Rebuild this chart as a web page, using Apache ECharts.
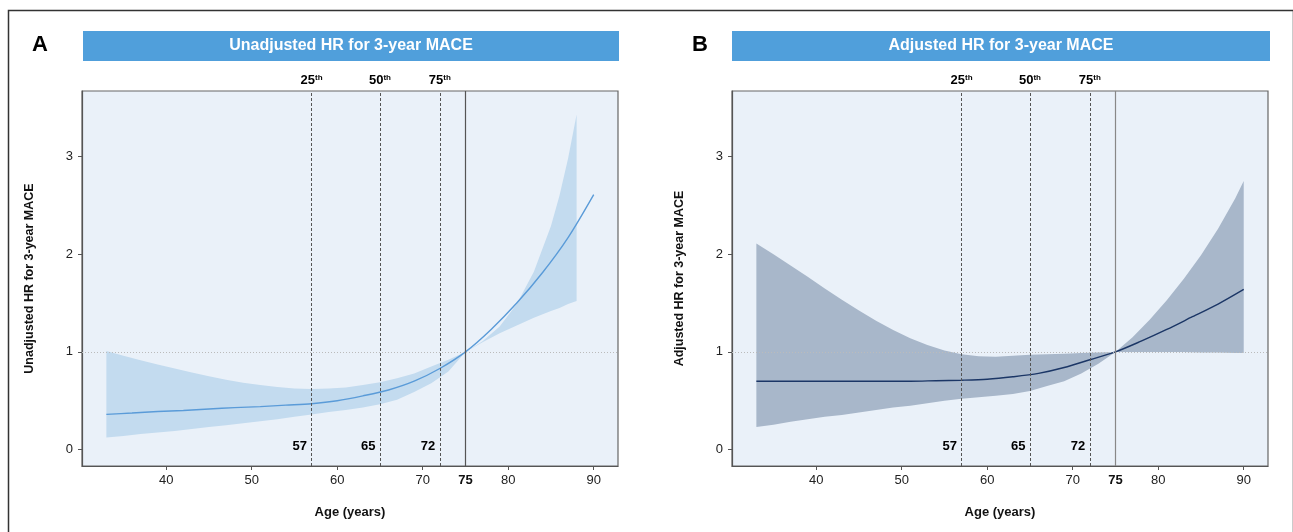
<!DOCTYPE html>
<html>
<head>
<meta charset="utf-8">
<title>HR for 3-year MACE by age</title>
<script src="https://cdn.jsdelivr.net/npm/echarts@6/dist/echarts.min.js"></script>
<style>
  html, body { margin: 0; padding: 0; background: #fff; }
  #main { width: 1293px; height: 532px; }
</style>
</head>
<body>
<div id="main"></div>
<script>
// panel A - unadjusted
var ageA = [33, 36, 39, 42, 45, 48, 51, 54, 57, 60, 63, 66, 69, 72, 75, 78, 81, 84, 87, 90];
var hrA = [0.36, 0.375, 0.39, 0.40, 0.415, 0.43, 0.44, 0.455, 0.47, 0.50, 0.55, 0.61, 0.70, 0.83, 1.0, 1.23, 1.50, 1.81, 2.17, 2.61];
var bandAgeA = [33, 35, 37, 39, 41, 43, 45, 47, 49, 51, 53, 55, 57, 59, 61, 63, 65, 67, 69, 71, 73, 75, 77, 79, 81, 83, 85, 86, 87, 88];
var upperA = [1.01, 0.96, 0.915, 0.87, 0.83, 0.79, 0.75, 0.715, 0.685, 0.66, 0.64, 0.625, 0.62, 0.625, 0.635, 0.66, 0.69, 0.73, 0.78, 0.85, 0.92, 1.0, 1.11, 1.26, 1.49, 1.82, 2.29, 2.60, 2.98, 3.43];
var lowerA = [0.125, 0.14, 0.16, 0.175, 0.19, 0.21, 0.23, 0.25, 0.27, 0.29, 0.31, 0.335, 0.36, 0.385, 0.405, 0.43, 0.465, 0.51, 0.59, 0.68, 0.80, 1.0, 1.10, 1.19, 1.27, 1.35, 1.42, 1.45, 1.49, 1.52];

// panel B - adjusted
var ageB = [33, 36, 39, 42, 45, 48, 51, 54, 57, 60, 63, 66, 69, 72, 75, 78, 81, 84, 87, 90];
var hrB = [0.70, 0.70, 0.70, 0.70, 0.70, 0.70, 0.70, 0.705, 0.71, 0.72, 0.745, 0.78, 0.84, 0.92, 1.0, 1.11, 1.23, 1.36, 1.49, 1.64];
var bandAgeB = [33, 35, 37, 39, 41, 43, 45, 47, 49, 51, 53, 55, 57, 59, 61, 63, 65, 67, 69, 71, 73, 75, 77, 79, 81, 83, 85, 87, 89, 90];
var upperB = [2.11, 2.00, 1.885, 1.77, 1.65, 1.535, 1.425, 1.32, 1.225, 1.14, 1.07, 1.015, 0.975, 0.955, 0.95, 0.96, 0.97, 0.975, 0.98, 0.99, 0.995, 1.0, 1.15, 1.33, 1.53, 1.75, 1.99, 2.26, 2.57, 2.75];
var lowerB = [0.23, 0.255, 0.285, 0.31, 0.335, 0.355, 0.38, 0.405, 0.43, 0.45, 0.475, 0.50, 0.52, 0.535, 0.55, 0.57, 0.60, 0.65, 0.70, 0.78, 0.88, 1.0, 1.0, 1.0, 1.0, 0.998, 0.995, 0.993, 0.99, 0.99];

// age quartiles and reference age
var pctAges = [57, 65, 72];
var pctNames = ['25', '50', '75'];
var refAge = 75;
var xTicks = [40, 50, 60, 70, 80, 90];
var xLabels = [40, 50, 60, 70, 75, 80, 90];
var yTicks = [0, 1, 2, 3];

var FONT = "'Liberation Sans', Arial, sans-serif";
var PLOT_BG = '#EAF1F9';
var X_MIN = 30.15, X_MAX = 92.84, Y_MIN = -0.168, Y_MAX = 3.671;

function zip(xs, ys) {
  return xs.map(function (x, i) { return [x, ys[i]]; });
}

function panel(i, opt) {
  var grid = {
    left: opt.left, top: 91, width: 536, height: 375,
    show: true, backgroundColor: PLOT_BG, borderColor: '#666', borderWidth: 1.2
  };
  var xAxis = {
    type: 'value', gridIndex: i, min: X_MIN, max: X_MAX,
    name: 'Age (years)', nameLocation: 'middle', nameGap: 40,
    nameTextStyle: { fontFamily: FONT, fontWeight: 'bold', fontSize: 13, color: '#111' },
    axisLine: { show: true, onZero: false, lineStyle: { color: '#555', width: 1.2 } },
    axisTick: { show: true, length: 4, lineStyle: { color: '#555' }, customValues: xTicks },
    axisLabel: {
      customValues: xLabels, margin: 8, fontSize: 13, color: '#222', fontFamily: FONT,
      formatter: function (v) { return v === refAge ? '{b|' + v + '}' : String(v); },
      rich: { b: { fontFamily: FONT, fontWeight: 'bold', fontSize: 13, color: '#111' } }
    },
    splitLine: { show: false }
  };
  var yAxis = {
    type: 'value', gridIndex: i, min: Y_MIN, max: Y_MAX,
    name: opt.yName, nameLocation: 'middle', nameGap: 46,
    nameTextStyle: { fontFamily: FONT, fontWeight: 'bold', fontSize: 12.5, color: '#111' },
    axisLine: { show: true, onZero: false, lineStyle: { color: '#555', width: 1.2 } },
    axisTick: { show: true, length: 4, lineStyle: { color: '#555' }, customValues: yTicks },
    axisLabel: { customValues: yTicks, margin: 9, fontSize: 13, color: '#222', fontFamily: FONT },
    splitLine: { show: false }
  };
  var bandData = opt.bandAge.map(function (a, k) { return [a, opt.lower[k], opt.upper[k]]; });
  var series = [
    {
      // confidence band: one polygon, upper edge left to right then lower edge back
      type: 'custom', xAxisIndex: i, yAxisIndex: i, silent: true,
      data: bandData,
      encode: { x: 0, y: [1, 2] },
      renderItem: function (params, api) {
        if (params.dataIndex !== 0) return;
        var top = bandData.map(function (d) { return api.coord([d[0], d[2]]); });
        var bottom = bandData.map(function (d) { return api.coord([d[0], d[1]]); }).reverse();
        return {
          type: 'polygon',
          shape: { points: top.concat(bottom) },
          style: { fill: opt.bandColor }
        };
      }
    },
    {
      type: 'line', xAxisIndex: i, yAxisIndex: i, silent: true,
      data: zip(opt.age, opt.hr), smooth: 0.3, showSymbol: false,
      lineStyle: { color: opt.lineColor, width: 1.4 },
      markLine: {
        silent: true, symbol: ['none', 'none'], animation: false,
        label: { show: false },
        data: pctAges.map(function (a) {
          return { xAxis: a, lineStyle: { color: '#555', type: [3, 2], width: 1 } };
        }).concat([
          { xAxis: refAge, lineStyle: { color: opt.refColor, type: 'solid', width: 1.2 } },
          { yAxis: 1, lineStyle: { color: '#bbb', type: [1, 2], width: 1 } }
        ])
      }
    },
    {
      type: 'scatter', xAxisIndex: i, yAxisIndex: i, silent: true, clip: false,
      symbolSize: 1, itemStyle: { color: 'transparent', opacity: 1 },
      data: pctAges.map(function (a, k) { return { value: [a, Y_MAX], name: pctNames[k] }; }),
      label: {
        show: true, position: 'top', distance: 4,
        formatter: function (p) { return '{n|' + p.name + '}{s|th}'; },
        rich: {
          n: { fontFamily: FONT, fontSize: 13, fontWeight: 'bold', color: '#000' },
          s: { fontFamily: FONT, fontSize: 8, fontWeight: 'bold', color: '#000', verticalAlign: 'top' }
        }
      }
    },
    {
      type: 'scatter', xAxisIndex: i, yAxisIndex: i, silent: true, clip: false,
      symbolSize: 1, itemStyle: { color: 'transparent', opacity: 1 },
      data: pctAges.map(function (a) { return [a, 0.03]; }),
      label: {
        show: true, position: 'left', distance: 4,
        formatter: function (p) { return String(p.value[0]); },
        fontFamily: FONT, fontSize: 13, fontWeight: 'bold', color: '#000'
      }
    }
  ];
  return { grid: grid, xAxis: xAxis, yAxis: yAxis, series: series };
}

var pA = panel(0, {
  left: 82, yName: 'Unadjusted HR for 3-year MACE',
  age: ageA, hr: hrA, bandAge: bandAgeA, upper: upperA, lower: lowerA,
  bandColor: '#C3DBEF', lineColor: '#5A9BD8', refColor: '#555'
});
var pB = panel(1, {
  left: 732, yName: 'Adjusted HR for 3-year MACE',
  age: ageB, hr: hrB, bandAge: bandAgeB, upper: upperB, lower: lowerB,
  bandColor: '#A8B7CA', lineColor: '#1B3666', refColor: '#888'
});

function titleBar(x, w, text) {
  return {
    type: 'group', left: x, top: 31,
    children: [
      { type: 'rect', shape: { x: 0, y: 0, width: w, height: 30 }, style: { fill: '#509FDB' } },
      {
        type: 'text', x: w / 2, y: 15,
        style: { text: text, fill: '#fff', font: 'bold 16px ' + FONT, textAlign: 'center', textVerticalAlign: 'middle' }
      }
    ]
  };
}

var chart = echarts.init(document.getElementById('main'), null, { renderer: 'canvas' });
chart.setOption({
  animation: false,
  backgroundColor: '#fff',
  grid: [pA.grid, pB.grid],
  xAxis: [pA.xAxis, pB.xAxis],
  yAxis: [pA.yAxis, pB.yAxis],
  series: pA.series.concat(pB.series),
  graphic: [
    { type: 'rect', left: 6, top: 8, shape: { x: 0, y: 0, width: 1285, height: 600 }, style: { fill: 'none', stroke: '#333', lineWidth: 1.5 }, z: -1 },
    titleBar(83, 536, 'Unadjusted HR for 3-year MACE'),
    titleBar(732, 538, 'Adjusted HR for 3-year MACE'),
    { type: 'text', x: 40, y: 45, style: { text: 'A', font: 'bold 22px ' + FONT, fill: '#000', textAlign: 'center', textVerticalAlign: 'middle' } },
    { type: 'text', x: 700, y: 45, style: { text: 'B', font: 'bold 22px ' + FONT, fill: '#000', textAlign: 'center', textVerticalAlign: 'middle' } }
  ]
});
</script>
</body>
</html>
